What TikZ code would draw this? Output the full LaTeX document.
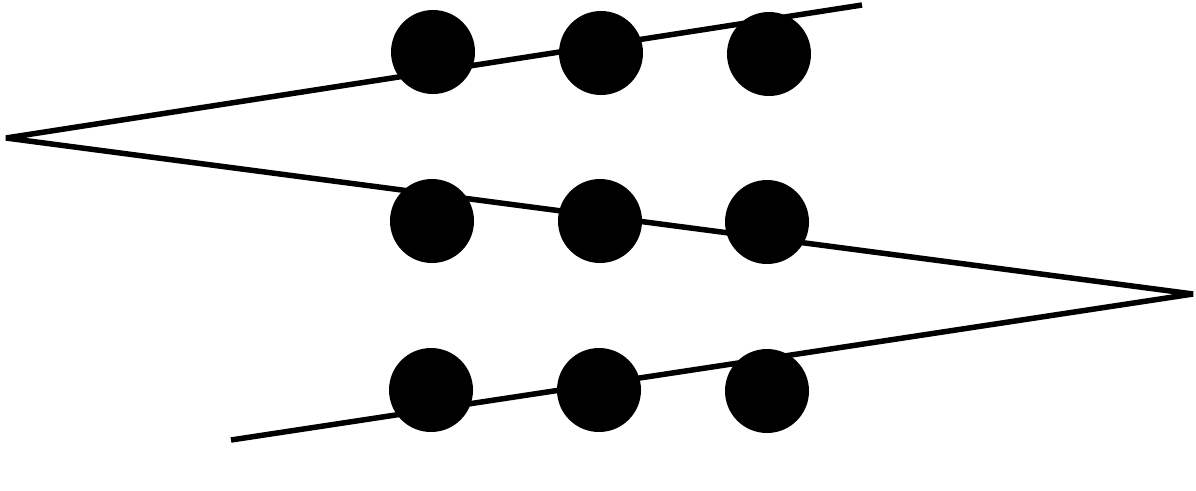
\documentclass[tikz,border=0pt]{standalone}
\begin{document}
\begin{tikzpicture}[x=1pt,y=-1pt,
  dot/.style={circle,fill=black,minimum size=84pt,inner sep=0pt},
  zig/.style={line width=5.5pt,line join=bevel}]
\useasboundingbox (0,0) rectangle (1196,490);
\coordinate (t) at (862,5);
\coordinate (l) at (6,138);
\coordinate (r) at (1193,294);
\coordinate (b) at (231,440);
\draw[zig] (t) -- (l) -- (r) -- (b);
\node[dot] (a1) at (433,52) {};
\node[dot] (a2) at (601,53) {};
\node[dot] (a3) at (769,54) {};
\node[dot] (b1) at (432,221) {};
\node[dot] (b2) at (600,221) {};
\node[dot] (b3) at (767,222) {};
\node[dot] (c1) at (431,390) {};
\node[dot] (c2) at (599,390) {};
\node[dot] (c3) at (767,391) {};
\end{tikzpicture}
\end{document}
